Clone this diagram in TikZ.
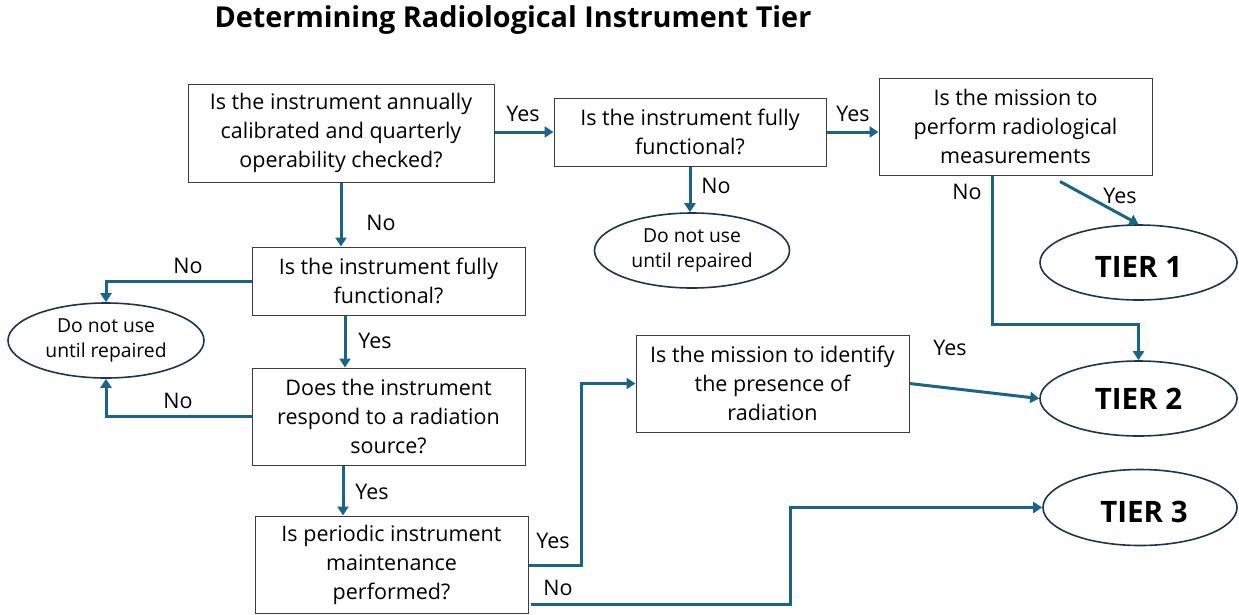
\documentclass[tikz,border=0pt]{standalone}
\usepackage{fontspec}
\setmainfont{Open Sans}
\usetikzlibrary{shapes.geometric,arrows.meta}
\definecolor{arrowc}{RGB}{28,100,135}
\definecolor{ellc}{RGB}{25,55,75}
\definecolor{boxc}{RGB}{60,60,60}
\tikzset{
  qbox/.style={draw=boxc,line width=1pt,rectangle,align=center,inner sep=0pt,
    font=\fontsize{21.5}{29}\selectfont},
  oval/.style={draw=ellc,line width=1.6pt,ellipse,inner sep=0pt,align=center,
    font=\fontsize{19.3}{25.5}\selectfont},
  tier/.style={draw=ellc,line width=1.6pt,ellipse,inner sep=0pt,
    minimum width=197pt,minimum height=75pt,font=\fontsize{29.5}{30}\selectfont\bfseries},
  conn/.style={draw=arrowc,line width=3pt,-{Triangle[length=9pt,width=11pt]}},
  lbl/.style={font=\fontsize{21.5}{24}\selectfont,inner sep=0pt}
}
\begin{document}
\begin{tikzpicture}[x=1pt,y=-1pt]
\useasboundingbox (0,0) rectangle (1239,614);
\node[font=\fontsize{28.8}{32}\selectfont\bfseries] (title) at (513,20) {Determining Radiological Instrument Tier};

\node[qbox,minimum width=306pt,minimum height=98pt] (b1) at (341,133)
  {Is the instrument annually\\calibrated and quarterly\\operability checked?};
\node[qbox,minimum width=272pt,minimum height=68pt] (b2) at (690,132)
  {Is the instrument fully\\functional?};
\node[qbox,minimum width=273pt,minimum height=97pt] (b3) at (1015.5,126.5)
  {Is the mission to\\perform radiological\\measurements};
\node[qbox,minimum width=273pt,minimum height=68pt] (b4) at (388.5,281)
  {Is the instrument fully\\functional?};
\node[qbox,minimum width=273pt,minimum height=97pt] (b5) at (388.5,416.5)
  {Does the instrument\\respond to a radiation\\source?};
\node[qbox,minimum width=273pt,minimum height=97pt] (b6) at (772.5,383.5)
  {Is the mission to identify\\the presence of\\radiation};
\node[qbox,minimum width=273pt,minimum height=97pt] (b7) at (391.5,564.5)
  {Is periodic instrument\\maintenance\\performed?};

\node[oval,minimum width=195pt,minimum height=75pt] (e1) at (692,250.5)
  {Do not use\\until repaired};
\node[oval,minimum width=196pt,minimum height=75pt] (e2) at (106,340.5)
  {Do not use\\until repaired};
\node[tier,text height=29pt,text depth=0pt] (t1) at (1138.5,262.5) {TIER 1};
\node[tier] (t2) at (1138.5,398.5) {TIER 2};
\node[tier,minimum height=76pt,minimum width=194pt,text height=29pt,text depth=0pt] (t3) at (1140,507.5) {\hspace*{8pt}TIER 3};

% connectors
\draw[conn] (b2.west -| b1.east) -- (b2.west);
\draw[conn] (b2.east) -- (b3.west |- b2.east);
\draw[conn] (b2.south) -- (b2.south |- e1.north);
\draw[conn] (b1.south) -- (b1.south |- b4.north);
\draw[conn] (b4.west) -| (e2.north);
\draw[conn] ([xshift=-43.5pt]b4.south) -- ([xshift=-43.5pt]b5.north);
\draw[conn] (b5.west) -| (e2.south);
\draw[conn] ([xshift=-45.5pt]b5.south) -- ([xshift=-48.5pt]b7.north);
\draw[conn] ([yshift=-0.5pt]b7.east) -- ++(53,0) |- (b6.west);
\draw[conn] ([shift={(2pt,-39.5pt)}]b7.east) -- ++(260,0) |- (t3.west);
\draw[conn] (b6.east) -- (t2.west);
\draw[conn] ([xshift=-23.5pt]b3.south) -- ++(0,149) -| (t2.north);
\draw[conn] ([shift={(44.5pt,-6pt)}]b3.south) -- (t1.north);

% labels
\node[lbl] (l1) at (523,114) {Yes};
\node[lbl] (l2) at (853,114) {Yes};
\node[lbl] (l3) at (716,186) {No};
\node[lbl] (l4) at (381,223) {No};
\node[lbl] (l5) at (188,266) {No};
\node[lbl] (l6) at (375,341) {Yes};
\node[lbl] (l7) at (178,401) {No};
\node[lbl] (l8) at (372,492) {Yes};
\node[lbl] (l9) at (553,541) {Yes};
\node[lbl] (l10) at (558,588) {No};
\node[lbl] (l11) at (950,348) {Yes};
\node[lbl] (l12) at (967,192) {No};
\node[lbl] (l13) at (1120,196) {Yes};
\end{tikzpicture}
\end{document}
